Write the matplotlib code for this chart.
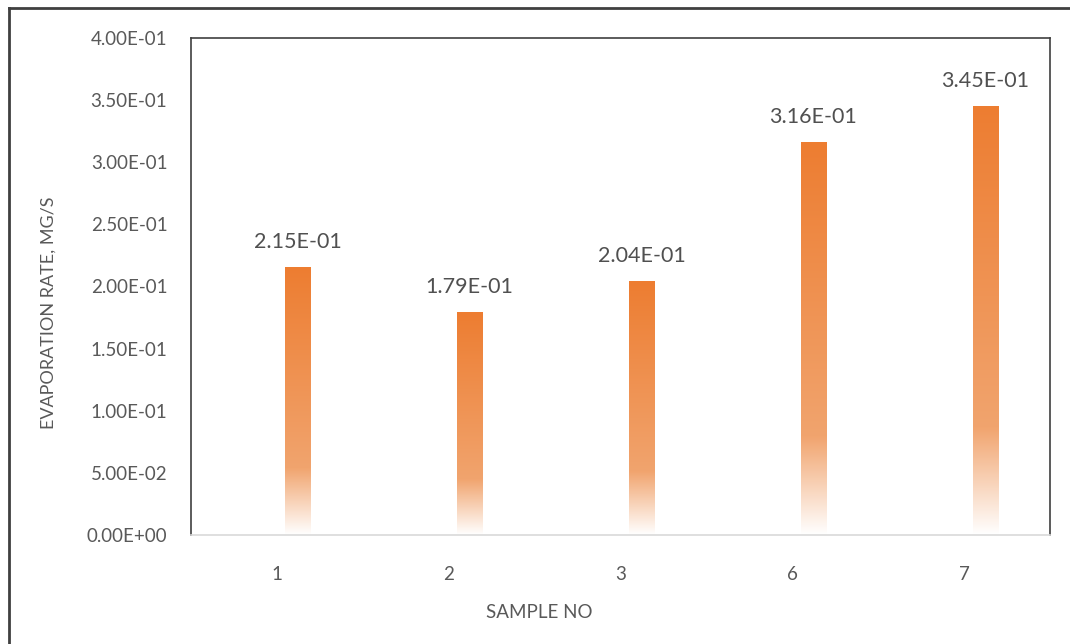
import numpy as np
import matplotlib
matplotlib.use("Agg")
import matplotlib.pyplot as plt
from matplotlib.colors import to_rgb
from matplotlib.lines import Line2D

# sample numbers and measured evaporation rates (mg/s)
samples = ["1", "2", "3", "6", "7"]
rates = [0.215, 0.179, 0.204, 0.316, 0.345]
y_ticks = [0.0, 0.05, 0.10, 0.15, 0.20, 0.25, 0.30, 0.35, 0.40]

plt.rcParams["font.family"] = ["Lato", "DejaVu Sans"]

fig = plt.figure(figsize=(10.70, 6.44), dpi=100)
ax = fig.add_axes([0.1785, 0.1693, 0.8028, 0.7717])

# outer frame of the chart (top and left edges)
fig.add_artist(Line2D([0.0085, 0.0085], [0.0, 0.9875], transform=fig.transFigure,
                      color="#404040", lw=2))
fig.add_artist(Line2D([0.0085, 1.0], [0.9875, 0.9875], transform=fig.transFigure,
                      color="#404040", lw=2))

orange = np.array(to_rgb("#ED7D31"))
light = np.array(to_rgb("#F1A46E"))
white = np.array([1.0, 1.0, 1.0])


def gradient_column(n=256):
    # row 0 = bottom of the bar, last row = top
    t = np.linspace(0, 1, n)
    cols = np.zeros((n, 3))
    for i, f in enumerate(t):
        if f < 0.25:
            k = f / 0.25
            cols[i] = white * (1 - k) + light * k
        else:
            k = (f - 0.25) / 0.75
            cols[i] = light * (1 - k) + orange * k
    return cols[:, None, :]


grad = gradient_column()
bar_w = 0.146
shift = 0.122  # bars sit a little right of the category ticks
for i, (s, v) in enumerate(zip(samples, rates)):
    x = i + shift
    ax.imshow(grad, extent=[x - bar_w / 2, x + bar_w / 2, 0, v], origin="lower",
              aspect="auto", interpolation="bilinear", zorder=2)
    ax.annotate(f"{v:.2E}", (x, v), xytext=(0, 18.5), textcoords="offset points",
                ha="center", va="center", fontsize=15.5, color="#505050")

ax.set_xlim(-0.5, len(samples) - 0.5)
ax.set_ylim(0, 0.40)
ax.set_xticks(range(len(samples)))
ax.set_xticklabels(samples)
ax.set_yticks(y_ticks)
ax.set_yticklabels([f"{t:.2E}" for t in y_ticks])
ax.tick_params(axis="both", length=0, labelsize=13.5, colors="#595959")
ax.tick_params(axis="y", pad=17)
ax.tick_params(axis="x", pad=22)

for side in ["left", "top", "right"]:
    ax.spines[side].set_color("#404040")
    ax.spines[side].set_linewidth(1.2)
ax.spines["bottom"].set_color("#D9D9D9")
ax.spines["bottom"].set_linewidth(1.2)

ax.set_xlabel("SAMPLE NO", fontsize=13.5, color="#595959")
ax.xaxis.set_label_coords(0.406, -0.139)
ax.set_ylabel("EVAPORATION RATE, MG/S", fontsize=13, color="#595959")
ax.yaxis.set_label_coords(-0.156, 0.447)

fig.savefig("out.png", dpi=100)
